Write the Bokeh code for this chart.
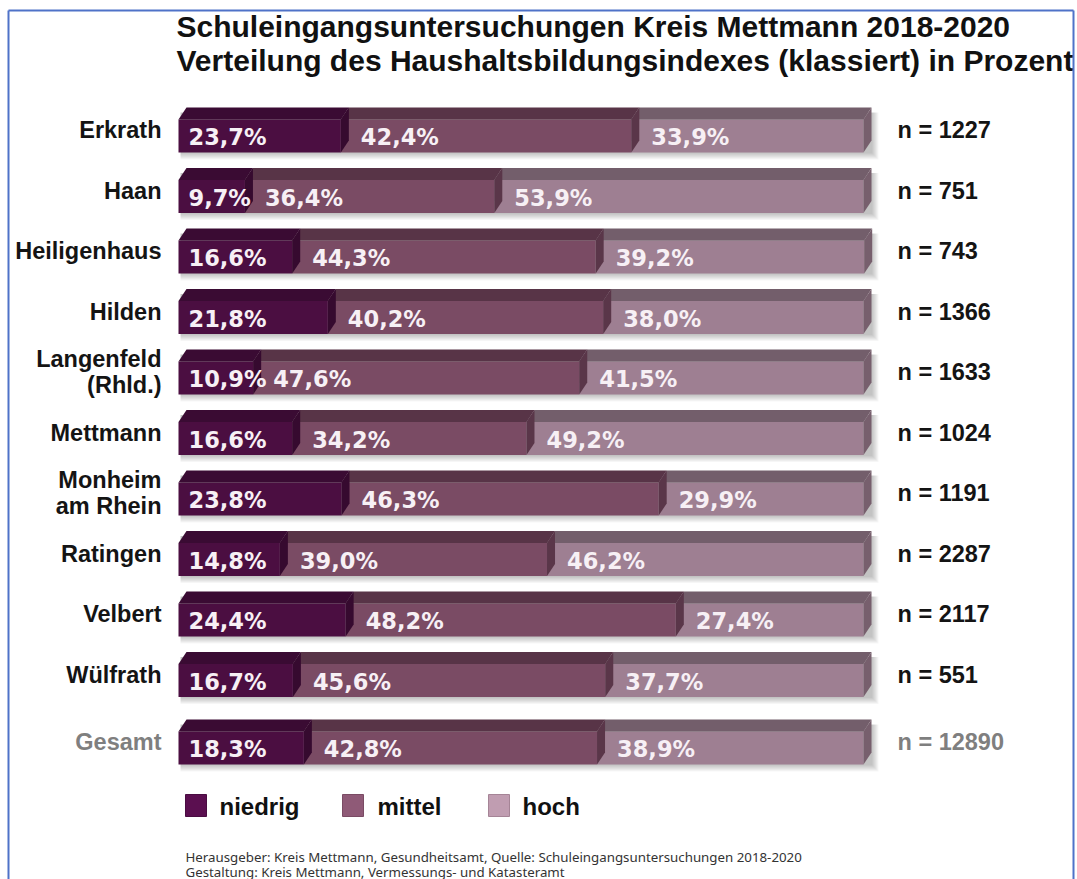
from bokeh.plotting import figure
from bokeh.models import Range1d, ColumnDataSource
from bokeh.embed import file_html
from bokeh.resources import INLINE
from bokeh.core.properties import value

# ---------------- data ----------------
title_lines = ["Schuleingangsuntersuchungen Kreis Mettmann 2018-2020",
               "Verteilung des Haushaltsbildungsindexes (klassiert) in Prozent"]
gemeinden = ["Erkrath", "Haan", "Heiligenhaus", "Hilden", "Langenfeld\n(Rhld.)", "Mettmann",
             "Monheim\nam Rhein", "Ratingen", "Velbert", "Wülfrath", "Gesamt"]
niedrig = [23.7, 9.7, 16.6, 21.8, 10.9, 16.6, 23.8, 14.8, 24.4, 16.7, 18.3]
mittel = [42.4, 36.4, 44.3, 40.2, 47.6, 34.2, 46.3, 39.0, 48.2, 45.6, 42.8]
hoch = [33.9, 53.9, 39.2, 38.0, 41.5, 49.2, 29.9, 46.2, 27.4, 37.7, 38.9]
n_values = [1227, 751, 743, 1366, 1633, 1024, 1191, 2287, 2117, 551, 12890]
series_names = ["niedrig", "mittel", "hoch"]
footer_lines = ["Herausgeber: Kreis Mettmann, Gesundheitsamt, Quelle: Schuleingangsuntersuchungen 2018-2020",
                "Gestaltung: Kreis Mettmann, Vermessungs- und Katasteramt"]

# ---------------- styling / layout ----------------
FRONT = {"niedrig": "#4b0e41", "mittel": "#7a4b64", "hoch": "#9e7f92"}
TOPC = {"niedrig": "#3a0b33", "mittel": "#583447", "hoch": "#735e6b"}
SIDE = {"niedrig": "#360a2f", "mittel": "#5a3649", "hoch": "#775f6d"}
LEGC = {"niedrig": "#5b0f50", "mittel": "#8f5a77", "hoch": "#c09db1"}
LEGL = {"niedrig": "#4a0c42", "mittel": "#7a4b64", "hoch": "#a58496"}

FIG_W, FIG_H, OFF = 1077, 879, 0
PX_PER_PCT = 6.85
X0_PAGE = 178.0
ROW_PX = 60.5
ROW0_PAGE = 135.5
GESAMT_GAP_PX = 7.0


def px_x(page_x):
    return (page_x - X0_PAGE) / PX_PER_PCT


def px_y(page_y):
    return (page_y - ROW0_PAGE) / ROW_PX


HH = 16.5 / ROW_PX
DX = 8.0 / PX_PER_PCT
DY = 12.0 / ROW_PX
PX1X = 1.0 / PX_PER_PCT
PX1Y = 1.0 / ROW_PX

p = figure(width=FIG_W, height=FIG_H, output_backend="svg", toolbar_location=None,
           x_range=Range1d(px_x(OFF), px_x(OFF + FIG_W)),
           y_range=Range1d(px_y(OFF + FIG_H), px_y(OFF)),
           min_border=0, outline_line_color=None)
p.axis.visible = False
p.grid.visible = False
p.background_fill_color = "white"
p.border_fill_color = "white"

rows = []
for i, g in enumerate(gemeinden):
    rows.append(i + (GESAMT_GAP_PX / ROW_PX if g == "Gesamt" else 0.0))

# shadows
for k in range(1, 8):
    p.quad(left=[2 * PX1X] * len(rows), right=[100 + DX + k * PX1X] * len(rows),
           top=[r - HH - DY + 5 * PX1Y for r in rows],
           bottom=[r + HH + k * PX1Y for r in rows],
           fill_color="black", fill_alpha=0.035, line_color=None)

vals = {"niedrig": niedrig, "mittel": mittel, "hoch": hoch}
starts = {"niedrig": [0.0] * len(rows),
          "mittel": [a for a in niedrig],
          "hoch": [a + b for a, b in zip(niedrig, mittel)]}

for s in ["hoch", "mittel", "niedrig"]:
    x0 = starts[s]
    x1 = [a + b for a, b in zip(x0, vals[s])]
    p.quad(left=x0, right=x1, top=[r - HH for r in rows], bottom=[r + HH for r in rows],
           fill_color=FRONT[s], line_color=None)
    tx = [[a, a + DX, b + DX, b] for a, b in zip(x0, x1)]
    ty = [[r - HH, r - HH - DY, r - HH - DY, r - HH] for r in rows]
    p.patches(tx, ty, fill_color=TOPC[s], line_color=None)
    sx = [[b, b + DX, b + DX, b] for b in x1]
    sy = [[r - HH, r - HH - DY, r + HH - DY, r + HH] for r in rows]
    p.patches(sx, sy, fill_color=SIDE[s], line_color=None)

# percentage labels
for s in series_names:
    src = ColumnDataSource(dict(x=starts[s], y=rows,
                                t=[("%.1f%%" % v).replace(".", ",") for v in vals[s]]))
    p.text(x="x", y="y", text="t", source=src, x_offset=10 if s == "niedrig" else 20,
           y_offset=1, text_color="#f7f0f5", text_font=value("DejaVu Sans"),
           text_font_style="bold", text_font_size="22.5px", text_baseline="middle",
           text_align="left")

# category labels & n labels
lab_y = [r - DY / 2 for r in rows]
cat_col = ["#7f7f7f" if g == "Gesamt" else "#141414" for g in gemeinden]
src_c = ColumnDataSource(dict(x=[px_x(161)] * len(rows), y=lab_y, t=gemeinden, c=cat_col))
p.text(x="x", y="y", text="t", color="c", source=src_c, text_font=value("Liberation Sans"),
       text_font_style="bold", text_font_size="23.5px", text_align="right",
       text_baseline="middle", text_line_height=1.0)
src_n = ColumnDataSource(dict(x=[px_x(897)] * len(rows), y=lab_y,
                              t=["n = %d" % v for v in n_values], c=cat_col))
p.text(x="x", y="y", text="t", color="c", source=src_n, text_font=value("Liberation Sans"),
       text_font_style="bold", text_font_size="23.5px", text_align="left",
       text_baseline="middle")

# title
p.text(x=[px_x(176)] * 2, y=[px_y(26), px_y(60)], text=title_lines,
       text_font=value("Liberation Sans"), text_font_style="bold", text_font_size="30px",
       text_color="#111111", text_baseline="alphabetic", text_align="left")

# legend
leg_box_x = [185, 342, 488]
leg_txt_x = [219, 377, 522]
leg_y = 805
for s, bx, tx_ in zip(series_names, leg_box_x, leg_txt_x):
    p.quad(left=[px_x(bx)], right=[px_x(bx + 21)], top=[px_y(leg_y - 11)], bottom=[px_y(leg_y + 11)],
           fill_color=LEGC[s], line_color=LEGL[s], line_width=1)
    p.text(x=[px_x(tx_)], y=[px_y(leg_y + 1)], text=[s], text_font=value("Liberation Sans"),
           text_font_style="bold", text_font_size="24px", text_color="#111111",
           text_baseline="middle", text_align="left")

# footer
p.text(x=[px_x(185)] * 2, y=[px_y(856), px_y(871)], text=footer_lines,
       text_font=value("Noto Sans"), text_font_size="13.3px", text_color="#333333",
       text_baseline="middle", text_align="left")

# blue frame
bc = "#4f72c8"
p.line(x=[px_x(8), px_x(8)], y=[px_y(10), px_y(890)], line_color=bc, line_width=2)
p.line(x=[px_x(8), px_x(1073)], y=[px_y(10), px_y(10)], line_color=bc, line_width=2)
p.line(x=[px_x(1073), px_x(1073)], y=[px_y(10), px_y(890)], line_color=bc, line_width=2)

open("out.html", "w").write(file_html(p, INLINE))
